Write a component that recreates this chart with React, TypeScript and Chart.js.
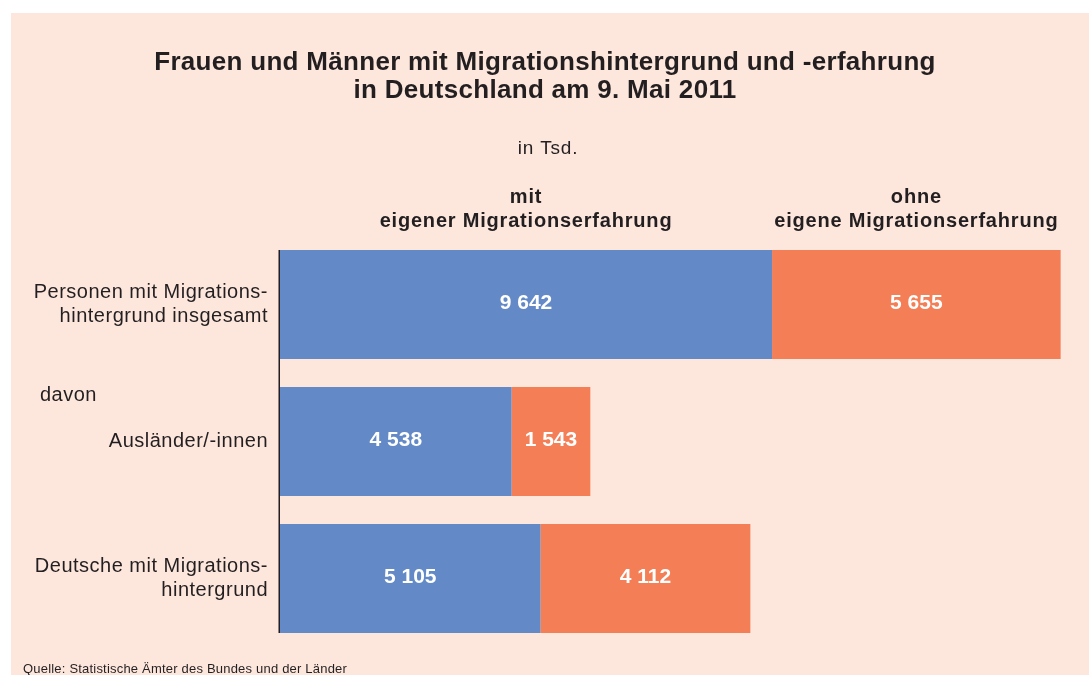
import React, { useEffect, useRef } from "react";
import { Chart, registerables } from "chart.js";

Chart.register(...registerables);

const categories: string[][] = [
  ["Personen mit Migrations-", "hintergrund insgesamt"],
  ["Ausländer/-innen"],
  ["Deutsche mit Migrations-", "hintergrund"],
];
const mitValues = [9642, 4538, 5105];
const ohneValues = [5655, 1543, 4112];
const seriesHeaders: string[][] = [
  ["mit", "eigener Migrationserfahrung"],
  ["ohne", "eigene Migrationserfahrung"],
];
const titleLines = [
  "Frauen und Männer mit Migrationshintergrund und -erfahrung",
  "in Deutschland am 9. Mai 2011",
];
const subtitle = "in Tsd.";
const davonLabel = "davon";
const sourceText = "Quelle: Statistische Ämter des Bundes und der Länder";

const BLUE = "#638ac6";
const ORANGE = "#f47e56";
const PEACH = "#fde7dd";
const TEXT = "#231f20";
const SANS = '"Liberation Sans", Arial, Helvetica, sans-serif';

const fmt = (n: number) => n.toString().replace(/\B(?=(\d{3})+(?!\d))/g, " ");

const decorPlugin = {
  id: "decor",
  beforeDraw(chart: any) {
    const ctx = chart.ctx;
    ctx.save();
    ctx.fillStyle = "#ffffff";
    ctx.fillRect(0, 0, chart.width, chart.height);
    ctx.fillStyle = PEACH;
    ctx.fillRect(11, 13, chart.width - 11, chart.height - 13);

    ctx.fillStyle = TEXT;
    ctx.textAlign = "center";
    ctx.textBaseline = "alphabetic";
    ctx.font = `bold 26px ${SANS}`;
    ctx.letterSpacing = "0.3px";
    ctx.fillText(titleLines[0], 545, 70);
    ctx.fillText(titleLines[1], 545, 98);
    ctx.font = `19px ${SANS}`;
    ctx.letterSpacing = "0.8px";
    ctx.fillText(subtitle, 548, 154);

    ctx.textAlign = "left";
    ctx.font = `13px ${SANS}`;
    ctx.letterSpacing = "0.2px";
    ctx.fillText(sourceText, 23, 673);
    ctx.restore();
    // slight tracking for the axis tick labels
    ctx.letterSpacing = "0.5px";
  },
  afterDatasetsDraw(chart: any) {
    const ctx = chart.ctx;
    const xScale = chart.scales.x;
    ctx.save();
    // value labels
    ctx.letterSpacing = "0px";
    ctx.fillStyle = "#ffffff";
    ctx.font = `bold 21px ${SANS}`;
    ctx.textAlign = "center";
    ctx.textBaseline = "middle";
    chart.data.datasets.forEach((ds: any, di: number) => {
      const meta = chart.getDatasetMeta(di);
      meta.data.forEach((el: any, i: number) => {
        const cx = (el.x + el.base) / 2;
        ctx.fillText(fmt(ds.data[i]), cx, el.y - 1);
      });
    });
    // series headers above first bar
    ctx.fillStyle = TEXT;
    ctx.font = `bold 20px ${SANS}`;
    ctx.letterSpacing = "0.8px";
    ctx.textBaseline = "alphabetic";
    chart.data.datasets.forEach((_ds: any, di: number) => {
      const el = chart.getDatasetMeta(di).data[0];
      const cx = (el.x + el.base) / 2;
      const top = el.y - el.height / 2;
      ctx.fillText(seriesHeaders[di][0], cx, top - 47);
      ctx.fillText(seriesHeaders[di][1], cx, top - 23);
    });
    // axis line
    const bars = chart.getDatasetMeta(0).data;
    const first = bars[0];
    const last = bars[categories.length - 1];
    const x0 = xScale.getPixelForValue(0);
    ctx.strokeStyle = TEXT;
    ctx.lineWidth = 1.5;
    ctx.beginPath();
    ctx.moveTo(x0 - 0.75, first.y - first.height / 2);
    ctx.lineTo(x0 - 0.75, last.y + last.height / 2);
    ctx.stroke();
    // "davon"
    const mid = (first.y + first.height / 2 + bars[1].y - bars[1].height / 2) / 2;
    ctx.font = `20px ${SANS}`;
    ctx.letterSpacing = "0.5px";
    ctx.textAlign = "left";
    ctx.textBaseline = "middle";
    ctx.fillText(davonLabel, 40, mid + 22);
    ctx.restore();
  },
};

export default function App() {
  const ref = useRef<HTMLCanvasElement | null>(null);
  useEffect(() => {
    if (!ref.current) return;
    const chart = new Chart(ref.current, {
      type: "bar",
      data: {
        labels: categories as any,
        datasets: [
          {
            label: seriesHeaders[0].join(" "),
            data: mitValues,
            backgroundColor: BLUE,
            borderWidth: 0,
            categoryPercentage: 1,
            barPercentage: 0.795,
          },
          {
            label: seriesHeaders[1].join(" "),
            data: ohneValues,
            backgroundColor: ORANGE,
            borderWidth: 0,
            categoryPercentage: 1,
            barPercentage: 0.795,
          },
        ],
      },
      options: {
        indexAxis: "y",
        animation: false,
        responsive: true,
        maintainAspectRatio: false,
        layout: { padding: { left: 0, right: 18, top: 236, bottom: 28 } },
        plugins: {
          legend: { display: false },
          tooltip: { enabled: false },
          title: { display: false },
        },
        scales: {
          x: {
            stacked: true,
            min: 0,
            max: 15500,
            display: false,
          },
          y: {
            stacked: true,
            grid: { display: false, drawTicks: false },
            border: { display: false },
            afterFit(scale: any) {
              scale.width = 280;
              scale.paddingTop = 0;
              scale.paddingBottom = 0;
            },
            ticks: {
              color: TEXT,
              padding: 12,
              font: { family: SANS, size: 20, lineHeight: 1.2 },
            },
          },
        },
      },
      plugins: [decorPlugin],
    });
    return () => chart.destroy();
  }, []);
  return (
    <div style={{ position: "absolute", left: 0, top: 0, width: 1089, height: 675 }}>
      <canvas ref={ref} />
    </div>
  );
}
